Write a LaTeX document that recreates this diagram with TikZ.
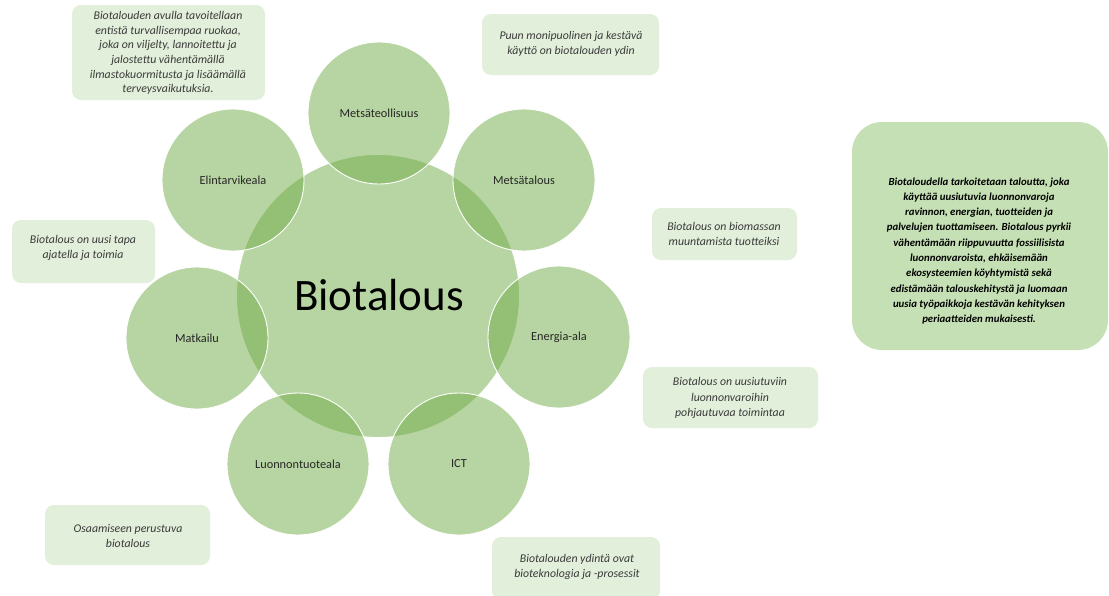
\documentclass[tikz,border=0pt]{standalone}
\usepackage{fontspec}
\setmainfont{Carlito}
\usetikzlibrary{positioning}
\definecolor{accent}{HTML}{70AD47}
\definecolor{boxfill}{HTML}{E2EFDA}
\definecolor{bigfill}{HTML}{C5E0B4}
\definecolor{txtgray}{HTML}{3A3A3A}
\tikzset{
  x=1pt, y=-1pt,
  bubble/.style={circle, inner sep=0pt, minimum size=142pt, fill=accent, fill opacity=0.5,
     draw=white, draw opacity=1, line width=0.9pt, text opacity=1,
     font=\fontsize{12.3}{14}\selectfont, text=black!85},
  hub/.style={bubble, minimum size=283pt},
  note/.style={draw=none, fill=boxfill, rounded corners=9pt},
  notetext/.style={align=center, text=txtgray, font=\fontsize{11.8}{15.5}\selectfont\itshape},
}
\begin{document}
\begin{tikzpicture}
\useasboundingbox (0,0) rectangle (1109,595);
\fill[white] (0,0) rectangle (1109,595);
% circles
\node[hub] (hub) at (378,296) {};
\node[bubble] (c1) at (379,113) {Metsäteollisuus};
\node[bubble] (c2) at (524,180) {Metsätalous};
\node[bubble] (c3) at (559,337) {Energia-ala};
\node[bubble] (c4) at (459,464) {ICT};
\node[bubble] (c5) at (298,464) {Luonnontuoteala};
\node[bubble] (c6) at (197,338) {Matkailu};
\node[bubble] (c7) at (233,180) {Elintarvikeala};
\node[anchor=base, font=\fontsize{45}{45}\selectfont, text=black] (title) at (379,310) {Biotalous};
% note boxes
\fill[note] (72,5) rectangle (265,100);
\node[notetext, font=\fontsize{11.8}{14.6}\selectfont\itshape] (n1) at (168,53) {Biotalouden avulla tavoitellaan\\entistä turvallisempaa ruokaa,\\joka on viljelty, lannoitettu ja\\jalostettu vähentämällä\\ilmastokuormitusta ja lisäämällä\\terveysvaikutuksia.};
\fill[note] (482,14) rectangle (659,75);
\node[notetext] (n2) at (571,44) {Puun monipuolinen ja kestävä\\käyttö on biotalouden ydin};
\fill[note] (12,220) rectangle (155,283);
\node[notetext] (n3) at (83,248) {Biotalous on uusi tapa\\ajatella ja toimia};
\fill[note] (652,208) rectangle (797,260);
\node[notetext] (n4) at (724,234) {Biotalous on biomassan\\muuntamista tuotteiksi};
\fill[note] (643,367) rectangle (818,428);
\node[notetext] (n5) at (730,398) {Biotalous on uusiutuviin\\luonnonvaroihin\\pohjautuvaa toimintaa};
\fill[note] (45,505) rectangle (210,565);
\node[notetext] (n6) at (128,536) {Osaamiseen perustuva\\biotalous};
\fill[note] (492,537) rectangle (660,600);
\node[notetext] (n7) at (577,567) {Biotalouden ydintä ovat\\bioteknologia ja -prosessit};
% big box
\fill[bigfill, rounded corners=30pt] (852,122) rectangle (1108,350);
\node[align=center, text=black, font=\fontsize{10.8}{15.3}\selectfont\bfseries\itshape] (big) at (979,251)
 {Biotaloudella tarkoitetaan taloutta, joka\\käyttää uusiutuvia luonnonvaroja\\ravinnon, energian, tuotteiden ja\\palvelujen tuottamiseen. Biotalous pyrkii\\vähentämään riippuvuutta fossiilisista\\luonnonvaroista, ehkäisemään\\ekosysteemien köyhtymistä sekä\\edistämään talouskehitystä ja luomaan\\uusia työpaikkoja kestävän kehityksen\\periaatteiden mukaisesti.};
\end{tikzpicture}
\end{document}
